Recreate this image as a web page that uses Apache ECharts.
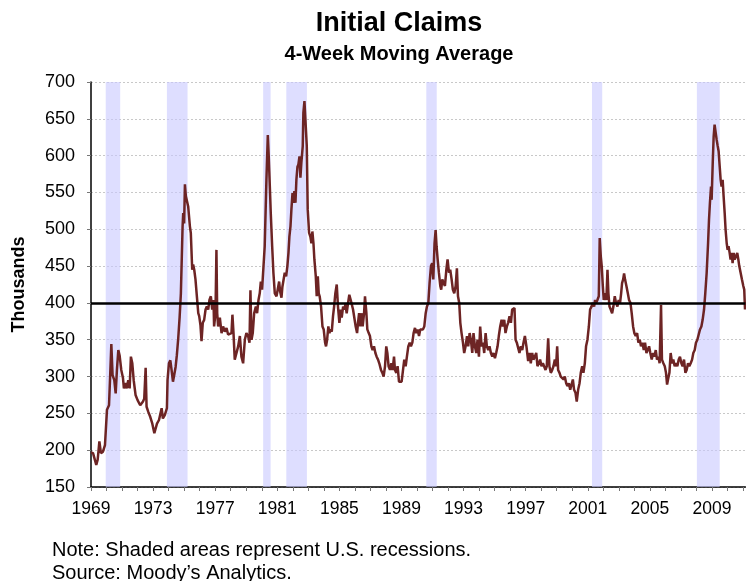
<!DOCTYPE html>
<html>
<head>
<meta charset="utf-8">
<script src="https://cdn.jsdelivr.net/npm/echarts@6/dist/echarts.min.js"></script>
<style>
html,body{margin:0;padding:0;background:#fff;}
#chart{width:746px;height:581px;}
</style>
</head>
<body>
<div id="chart"></div>
<script>
// ---- data (decimal year, thousands) ----
var titleText = 'Initial Claims';
var subtitleText = '4-Week Moving Average';
var yAxisName = 'Thousands';
var noteText = 'Note: Shaded areas represent U.S. recessions.';
var sourceText = 'Source: Moody\u2019s Analytics.';

var yMin = 150, yMax = 700, yStep = 50;
var xMin = 1969, xMax = 2011.15;
var labelYears = [1969, 1973, 1977, 1981, 1985, 1989, 1993, 1997, 2001, 2005, 2009];
var referenceLevel = 400;

var recessionStarts = [1969.95, 1973.89, 1980.09, 1981.58, 1990.60, 2001.27, 2008.03];
var recessionEnds   = [1970.88, 1975.22, 1980.57, 1982.91, 1991.27, 2001.93, 2009.50];

var claims1969to1974 = [[1969.00,197],[1969.13,196],[1969.34,180],[1969.43,187],[1969.54,212],[1969.64,196],[1969.77,198],[1969.90,207],[1970.03,255],[1970.16,261],[1970.24,304],[1970.31,344],[1970.39,302],[1970.50,295],[1970.59,277],[1970.67,309],[1970.76,336],[1970.84,329],[1970.95,309],[1971.06,298],[1971.12,284],[1971.21,291],[1971.30,284],[1971.40,295],[1971.49,284],[1971.57,327],[1971.66,318],[1971.75,295],[1971.87,275],[1972.00,268],[1972.17,261],[1972.35,266],[1972.43,270],[1972.52,312],[1972.58,259],[1972.69,252],[1972.82,245],[1972.95,236],[1973.08,223],[1973.16,225],[1973.25,236],[1973.38,241],[1973.55,257],[1973.63,243],[1973.76,248],[1973.89,257],[1973.93,295],[1974.02,318],[1974.11,322],[1974.19,309],[1974.28,293],[1974.36,302],[1974.45,313],[1974.53,329],[1974.62,352],[1974.71,381],[1974.79,413]];

var claims1974to1982 = [[1974.90,504],[1974.94,522],[1975.00,508],[1975.05,561],[1975.11,545],[1975.20,547],[1975.26,531],[1975.37,504],[1975.43,495],[1975.52,445],[1975.58,452],[1975.65,445],[1975.73,432],[1975.82,409],[1975.91,386],[1975.97,382],[1976.05,370],[1976.12,348],[1976.20,373],[1976.29,377],[1976.38,391],[1976.46,395],[1976.55,391],[1976.63,404],[1976.72,409],[1976.81,391],[1976.89,404],[1976.93,368],[1977.02,386],[1977.08,472],[1977.13,386],[1977.19,368],[1977.30,380],[1977.41,359],[1977.51,368],[1977.62,361],[1977.73,366],[1977.83,357],[1977.94,355],[1978.05,359],[1978.11,384],[1978.18,359],[1978.26,323],[1978.37,321],[1978.48,341],[1978.59,355],[1978.69,327],[1978.80,318],[1978.91,350],[1979.01,359],[1979.12,355],[1979.21,346],[1979.27,417],[1979.34,350],[1979.42,359],[1979.51,386],[1979.62,395],[1979.70,386],[1979.79,404],[1979.87,413],[1979.94,429],[1980.02,418],[1980.11,418],[1980.19,477],[1980.30,567],[1980.39,628],[1980.45,599],[1980.52,558],[1980.58,522],[1980.67,477],[1980.75,441],[1980.84,413],[1980.95,409],[1981.05,411],[1981.12,429],[1981.18,416],[1981.27,407],[1981.33,422],[1981.42,422],[1981.48,441],[1981.57,436],[1981.65,450],[1981.72,468],[1981.78,490],[1981.85,504],[1981.91,527],[1981.98,549],[1982.04,536],[1982.10,552],[1982.17,536],[1982.23,567],[1982.30,585],[1982.36,588],[1982.43,599],[1982.49,570],[1982.55,590],[1982.64,613],[1982.68,658],[1982.75,674]];

var claims1982to1996 = [[1982.90,613],[1982.96,527],[1983.05,495],[1983.13,490],[1983.20,481],[1983.26,497],[1983.33,481],[1983.39,459],[1983.48,436],[1983.54,409],[1983.61,436],[1983.67,413],[1983.73,409],[1983.82,395],[1983.91,368],[1983.99,364],[1984.08,346],[1984.14,341],[1984.21,350],[1984.29,368],[1984.36,359],[1984.42,364],[1984.51,361],[1984.59,382],[1984.66,395],[1984.74,413],[1984.83,425],[1984.91,395],[1985.00,373],[1985.09,391],[1985.15,380],[1985.24,395],[1985.32,391],[1985.39,398],[1985.47,386],[1985.56,400],[1985.64,411],[1985.73,404],[1985.81,404],[1985.88,391],[1985.96,389],[1986.05,368],[1986.14,359],[1986.20,373],[1986.27,386],[1986.35,368],[1986.44,386],[1986.50,368],[1986.59,386],[1986.65,409],[1986.74,386],[1986.80,364],[1986.89,359],[1986.97,355],[1987.06,341],[1987.14,336],[1987.23,341],[1987.32,332],[1987.40,327],[1987.49,323],[1987.57,318],[1987.68,309],[1987.77,305],[1987.85,300],[1987.94,314],[1988.02,341],[1988.09,332],[1988.17,314],[1988.26,309],[1988.35,318],[1988.43,309],[1988.52,327],[1988.58,309],[1988.67,305],[1988.75,314],[1988.84,293],[1988.92,291],[1989.01,293],[1989.10,309],[1989.18,323],[1989.27,314],[1989.35,327],[1989.44,341],[1989.53,346],[1989.61,341],[1989.70,346],[1989.78,359],[1989.87,366],[1989.95,359],[1990.04,364],[1990.13,355],[1990.21,364],[1990.30,366],[1990.38,364],[1990.47,368],[1990.56,386],[1990.64,395],[1990.73,400],[1990.81,427],[1990.90,450],[1990.98,454],[1991.05,432],[1991.13,481],[1991.20,499],[1991.26,477],[1991.33,459],[1991.41,441],[1991.50,423],[1991.56,418],[1991.63,432],[1991.71,427],[1991.80,423],[1991.89,445],[1991.97,459],[1992.06,441],[1992.14,445],[1992.23,432],[1992.31,418],[1992.40,413],[1992.49,423],[1992.57,447],[1992.64,409],[1992.72,400],[1992.79,373],[1992.87,359],[1992.96,346],[1993.04,332],[1993.13,341],[1993.22,355],[1993.30,341],[1993.39,359],[1993.47,350],[1993.56,332],[1993.64,359],[1993.73,341],[1993.82,332],[1993.90,350],[1993.99,327],[1994.07,368],[1994.16,341],[1994.25,346],[1994.33,332],[1994.42,359],[1994.50,341],[1994.59,336],[1994.67,341],[1994.76,332],[1994.85,327],[1994.93,332],[1995.02,325],[1995.10,332],[1995.19,341],[1995.27,355],[1995.36,368],[1995.45,377],[1995.53,368],[1995.62,377],[1995.70,359],[1995.79,368],[1995.87,373],[1995.96,382],[1996.05,373],[1996.13,391],[1996.22,391],[1996.28,393],[1996.35,350],[1996.43,346],[1996.52,346],[1996.60,332],[1996.69,341],[1996.78,336],[1996.86,346],[1996.95,355]];

var claims1997to2011 = [[1997.05,341],[1997.16,321],[1997.25,332],[1997.33,318],[1997.42,332],[1997.50,323],[1997.59,327],[1997.68,332],[1997.76,314],[1997.85,318],[1997.93,323],[1998.02,314],[1998.11,318],[1998.19,316],[1998.28,309],[1998.36,314],[1998.45,352],[1998.53,314],[1998.62,305],[1998.71,309],[1998.79,314],[1998.88,323],[1998.96,314],[1999.03,341],[1999.09,309],[1999.18,305],[1999.26,300],[1999.35,300],[1999.44,296],[1999.52,300],[1999.61,291],[1999.69,287],[1999.78,291],[1999.87,282],[1999.95,280],[2000.04,296],[2000.12,282],[2000.21,278],[2000.29,266],[2000.38,282],[2000.47,291],[2000.55,305],[2000.64,314],[2000.72,305],[2000.81,318],[2000.89,341],[2000.98,350],[2001.07,368],[2001.15,391],[2001.24,395],[2001.32,400],[2001.41,395],[2001.47,404],[2001.54,400],[2001.62,404],[2001.71,409],[2001.77,488],[2001.84,463],[2001.90,450],[2001.97,423],[2002.03,404],[2002.12,413],[2002.20,404],[2002.27,445],[2002.33,413],[2002.40,395],[2002.48,391],[2002.57,386],[2002.65,395],[2002.74,409],[2002.82,400],[2002.91,395],[2002.99,404],[2003.08,400],[2003.15,413],[2003.21,427],[2003.28,432],[2003.34,440],[2003.40,432],[2003.49,423],[2003.58,413],[2003.66,404],[2003.75,400],[2003.83,386],[2003.92,368],[2004.00,359],[2004.09,355],[2004.18,359],[2004.26,346],[2004.35,350],[2004.43,341],[2004.52,346],[2004.61,336],[2004.69,346],[2004.78,332],[2004.86,336],[2004.95,341],[2005.03,332],[2005.12,323],[2005.21,332],[2005.29,327],[2005.38,336],[2005.46,323],[2005.55,327],[2005.63,318],[2005.72,397],[2005.78,323],[2005.87,318],[2005.96,314],[2006.04,305],[2006.11,289],[2006.17,296],[2006.26,305],[2006.34,332],[2006.43,318],[2006.51,323],[2006.60,314],[2006.69,318],[2006.77,314],[2006.86,323],[2006.94,327],[2007.03,318],[2007.11,314],[2007.20,323],[2007.29,305],[2007.37,309],[2007.46,318],[2007.54,314],[2007.63,318],[2007.72,323],[2007.80,332],[2007.89,336],[2007.97,346],[2008.06,350],[2008.14,350],[2008.23,364],[2008.32,368],[2008.40,377],[2008.49,391],[2008.57,413],[2008.66,441],[2008.75,481],[2008.81,513],[2008.87,536],[2008.94,558],[2008.98,540],[2009.05,590],[2009.11,626],[2009.17,642],[2009.24,644],[2009.30,622],[2009.37,613],[2009.43,606],[2009.50,585],[2009.56,567],[2009.62,558],[2009.69,567],[2009.75,545],[2009.82,522],[2009.88,499],[2009.95,481],[2010.01,472],[2010.07,477],[2010.14,468],[2010.20,459],[2010.27,468],[2010.33,454],[2010.40,468],[2010.46,459],[2010.55,463],[2010.63,468],[2010.70,459],[2010.76,450],[2010.85,450],[2010.93,432],[2011.02,423],[2011.08,418],[2011.13,391]];

// ---- build ----
var claims = [].concat(claims1969to1974, claims1974to1982, claims1982to1996, claims1997to2011);
var recessionAreas = recessionStarts.map(function (s, i) {
  return [{ xAxis: s }, { xAxis: recessionEnds[i] }];
});

var FONT = "'Liberation Sans', Arial, sans-serif";
var chart = echarts.init(document.getElementById('chart'), null, { renderer: 'canvas' });

chart.setOption({
  animation: false,
  backgroundColor: '#ffffff',
  grid: { left: 91, right: 0, top: 82, bottom: 94, containLabel: false },
  graphic: [
    { type: 'text', x: 399, y: 10, style: { text: titleText, font: 'bold 27px ' + FONT, fill: '#000', align: 'center', verticalAlign: 'top', textAlign: 'center', textVerticalAlign: 'top' } },
    { type: 'text', x: 399, y: 44, style: { text: subtitleText, font: 'bold 20px ' + FONT, fill: '#000', align: 'center', verticalAlign: 'top', textAlign: 'center', textVerticalAlign: 'top' } },
    { type: 'text', x: 52, y: 550, style: { text: noteText, font: '20px ' + FONT, fill: '#000', verticalAlign: 'middle', textVerticalAlign: 'middle' } },
    { type: 'text', x: 52, y: 573, style: { text: sourceText, font: '20px ' + FONT, fill: '#000', verticalAlign: 'middle', textVerticalAlign: 'middle' } }
  ],
  xAxis: {
    type: 'value',
    min: xMin,
    max: xMax,
    interval: 1,
    axisLine: { show: true, onZero: false, lineStyle: { color: '#000', width: 1.5 } },
    axisTick: { show: true, length: 4, inside: false, lineStyle: { color: '#777', width: 1 } },
    splitLine: { show: false },
    axisLabel: {
      margin: 13,
      color: '#000',
      fontSize: 17.5,
      fontFamily: FONT,
      showMaxLabel: false,
      formatter: function (v) {
        var r = Math.round(v);
        return (Math.abs(v - r) < 1e-6 && labelYears.indexOf(r) >= 0) ? String(r) : '';
      }
    }
  },
  yAxis: {
    type: 'value',
    min: yMin,
    max: yMax,
    interval: yStep,
    name: yAxisName,
    nameLocation: 'middle',
    nameGap: 63,
    nameTextStyle: { fontSize: 18, fontWeight: 'bold', color: '#000', fontFamily: FONT },
    axisLine: { show: true, lineStyle: { color: '#000', width: 1.5 } },
    axisTick: { show: true, length: 4, lineStyle: { color: '#777' } },
    axisLabel: { margin: 16, color: '#000', fontSize: 18, fontFamily: FONT },
    splitLine: { show: true, lineStyle: { color: '#c8c8c8', type: [2, 2], width: 1 } }
  },
  series: [{
    type: 'line',
    data: claims,
    showSymbol: false,
    symbol: 'none',
    smooth: false,
    clip: true,
    lineStyle: { color: '#6d2424', width: 2.5 },
    z: 3,
    markArea: {
      silent: true,
      itemStyle: { color: 'rgba(200,200,255,0.6)' },
      data: recessionAreas
    },
    markLine: {
      silent: true,
      symbol: 'none',
      label: { show: false },
      lineStyle: { color: '#000', width: 2.5, type: 'solid' },
      data: [{ yAxis: referenceLevel }]
    }
  }]
});
</script>
</body>
</html>
